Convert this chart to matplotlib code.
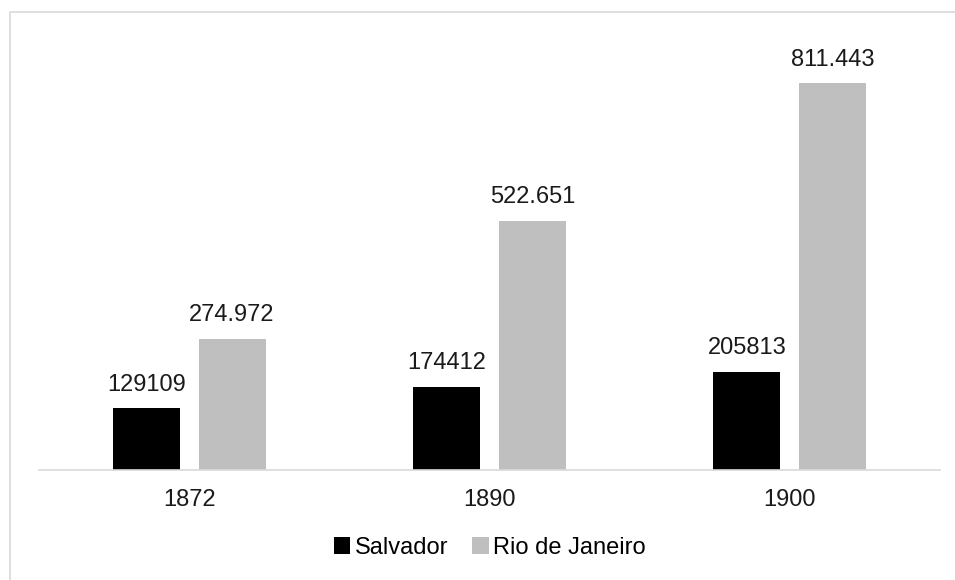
import numpy as np
import matplotlib.pyplot as plt
from matplotlib.patches import Rectangle

plt.rcParams['font.family'] = ['Liberation Sans', 'DejaVu Sans']

# data
years = ['1872', '1890', '1900']
salvador = [129109, 174412, 205813]
rio = [274972, 522651, 811443]
salvador_labels = ['129109', '174412', '205813']
rio_labels = ['274.972', '522.651', '811.443']

fig = plt.figure(figsize=(9.55, 5.8), dpi=100)
# light frame around the chart area (cropped on the right and bottom)
fig.patches.append(Rectangle((10 / 955, -0.05), 1.2, 1 - 12 / 580 + 0.05,
                             transform=fig.transFigure, fill=False,
                             edgecolor='#d9d9d9', linewidth=1.2))

ax = fig.add_axes([39 / 955, 1 - 470 / 580, 901 / 955, 429 / 580])
x = np.arange(len(years))
w = 0.223
off = 0.143
b1 = ax.bar(x - off, np.array(salvador) / 1000, w, color='black', label='Salvador')
b2 = ax.bar(x + off, np.array(rio) / 1000, w, color='#bfbfbf', label='Rio de Janeiro')

for bars, labs in [(b1, salvador_labels), (b2, rio_labels)]:
    for bar, lab in zip(bars, labs):
        ax.annotate(lab, (bar.get_x() + bar.get_width() / 2, bar.get_height()),
                    xytext=(0, 9), textcoords='offset points',
                    ha='center', va='bottom', fontsize=17, color='#1a1a1a')

ax.set_xlim(-0.5, 2.5)
ax.set_ylim(0, 900)
ax.set_xticks(x)
ax.set_xticklabels(years, fontsize=17, color='#1a1a1a')
ax.tick_params(axis='x', length=0, pad=14)
ax.set_yticks([])
for s in ['top', 'left', 'right']:
    ax.spines[s].set_visible(False)
ax.spines['bottom'].set_color('#d9d9d9')
ax.spines['bottom'].set_linewidth(1.2)

fig.legend(loc='center', bbox_to_anchor=(490 / 955, 1 - 548 / 580), ncol=2,
           frameon=False, fontsize=17, handlelength=0.7, handleheight=0.7,
           handletextpad=0.2, columnspacing=1.0)

fig.savefig('out.png', dpi=100)
